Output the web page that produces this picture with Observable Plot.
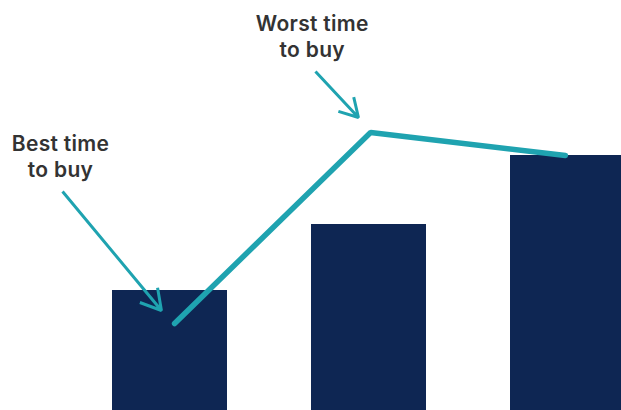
<!DOCTYPE html>
<html>
<head>
<meta charset="utf-8">
<script src="https://cdn.jsdelivr.net/npm/d3@7"></script>
<script src="https://cdn.jsdelivr.net/npm/@observablehq/plot@0.6"></script>
<style>
  html, body { margin: 0; padding: 0; background: #fff; overflow: hidden; }
  #chart svg { display: block; overflow: hidden; }
</style>
</head>
<body>
<div id="chart"></div>
<script>
// Bars: period index and height (arbitrary units, 0..410)
const periods = [0, 1, 2];
const barValues = [120, 186, 255];

// Price line
const lineX = [0.523, 1.508, 2.487];
const lineY = [87, 278, 255];

// Annotations
const noteLabels = ["Best time\nto buy", "Worst time\nto buy"];
const noteTextX = [-0.05, 1.215];
const noteTextY = [277, 397];
const arrowFromX = [-0.040, 1.231];
const arrowFromY = [219, 339];
const arrowToX = [0.457, 1.447];
const arrowToY = [100, 293];

const bars = periods.map((p, i) => ({period: p, value: barValues[i]}));
const line = lineX.map((x, i) => ({x, y: lineY[i]}));
const notes = noteLabels.map((label, i) => ({
  label, tx: noteTextX[i], ty: noteTextY[i],
  x1: arrowFromX[i], y1: arrowFromY[i], x2: arrowToX[i], y2: arrowToY[i]
}));

const navy = "#0e2653";
const teal = "#1fa3b0";

const chart = Plot.plot({
  width: 621,
  height: 410,
  margin: 0,
  x: {domain: [0, 3], range: [70, 667], axis: null},
  y: {domain: [0, 410], range: [410, 0], axis: null},
  style: {fontFamily: "Inter, 'Open Sans', sans-serif", background: "#fff"},
  marks: [
    Plot.rect(bars, {
      x1: "period", x2: d => d.period + 1, y1: 0, y2: "value",
      insetLeft: 42, insetRight: 42, fill: navy, clip: true
    }),
    Plot.line(line, {
      x: "x", y: "y", stroke: teal, strokeWidth: 5.5,
      strokeLinecap: "round", strokeLinejoin: "miter", curve: "linear"
    }),
    Plot.arrow(notes, {
      x1: "x1", y1: "y1", x2: "x2", y2: "y2",
      stroke: teal, strokeWidth: 3, headLength: 11.5, headAngle: 60,
      strokeLinecap: "butt"
    }),
    Plot.text(notes, {
      x: "tx", y: "ty", text: "label", lineAnchor: "top",
      textAnchor: "middle", fontSize: 21, fontWeight: 600,
      lineHeight: 1.2, fill: "#333333",
      style: "letter-spacing: 0.3px"
    })
  ]
});
chart.querySelectorAll("text").forEach(t => t.style.letterSpacing = "0.3px");
document.getElementById("chart").append(chart);
</script>
</body>
</html>
